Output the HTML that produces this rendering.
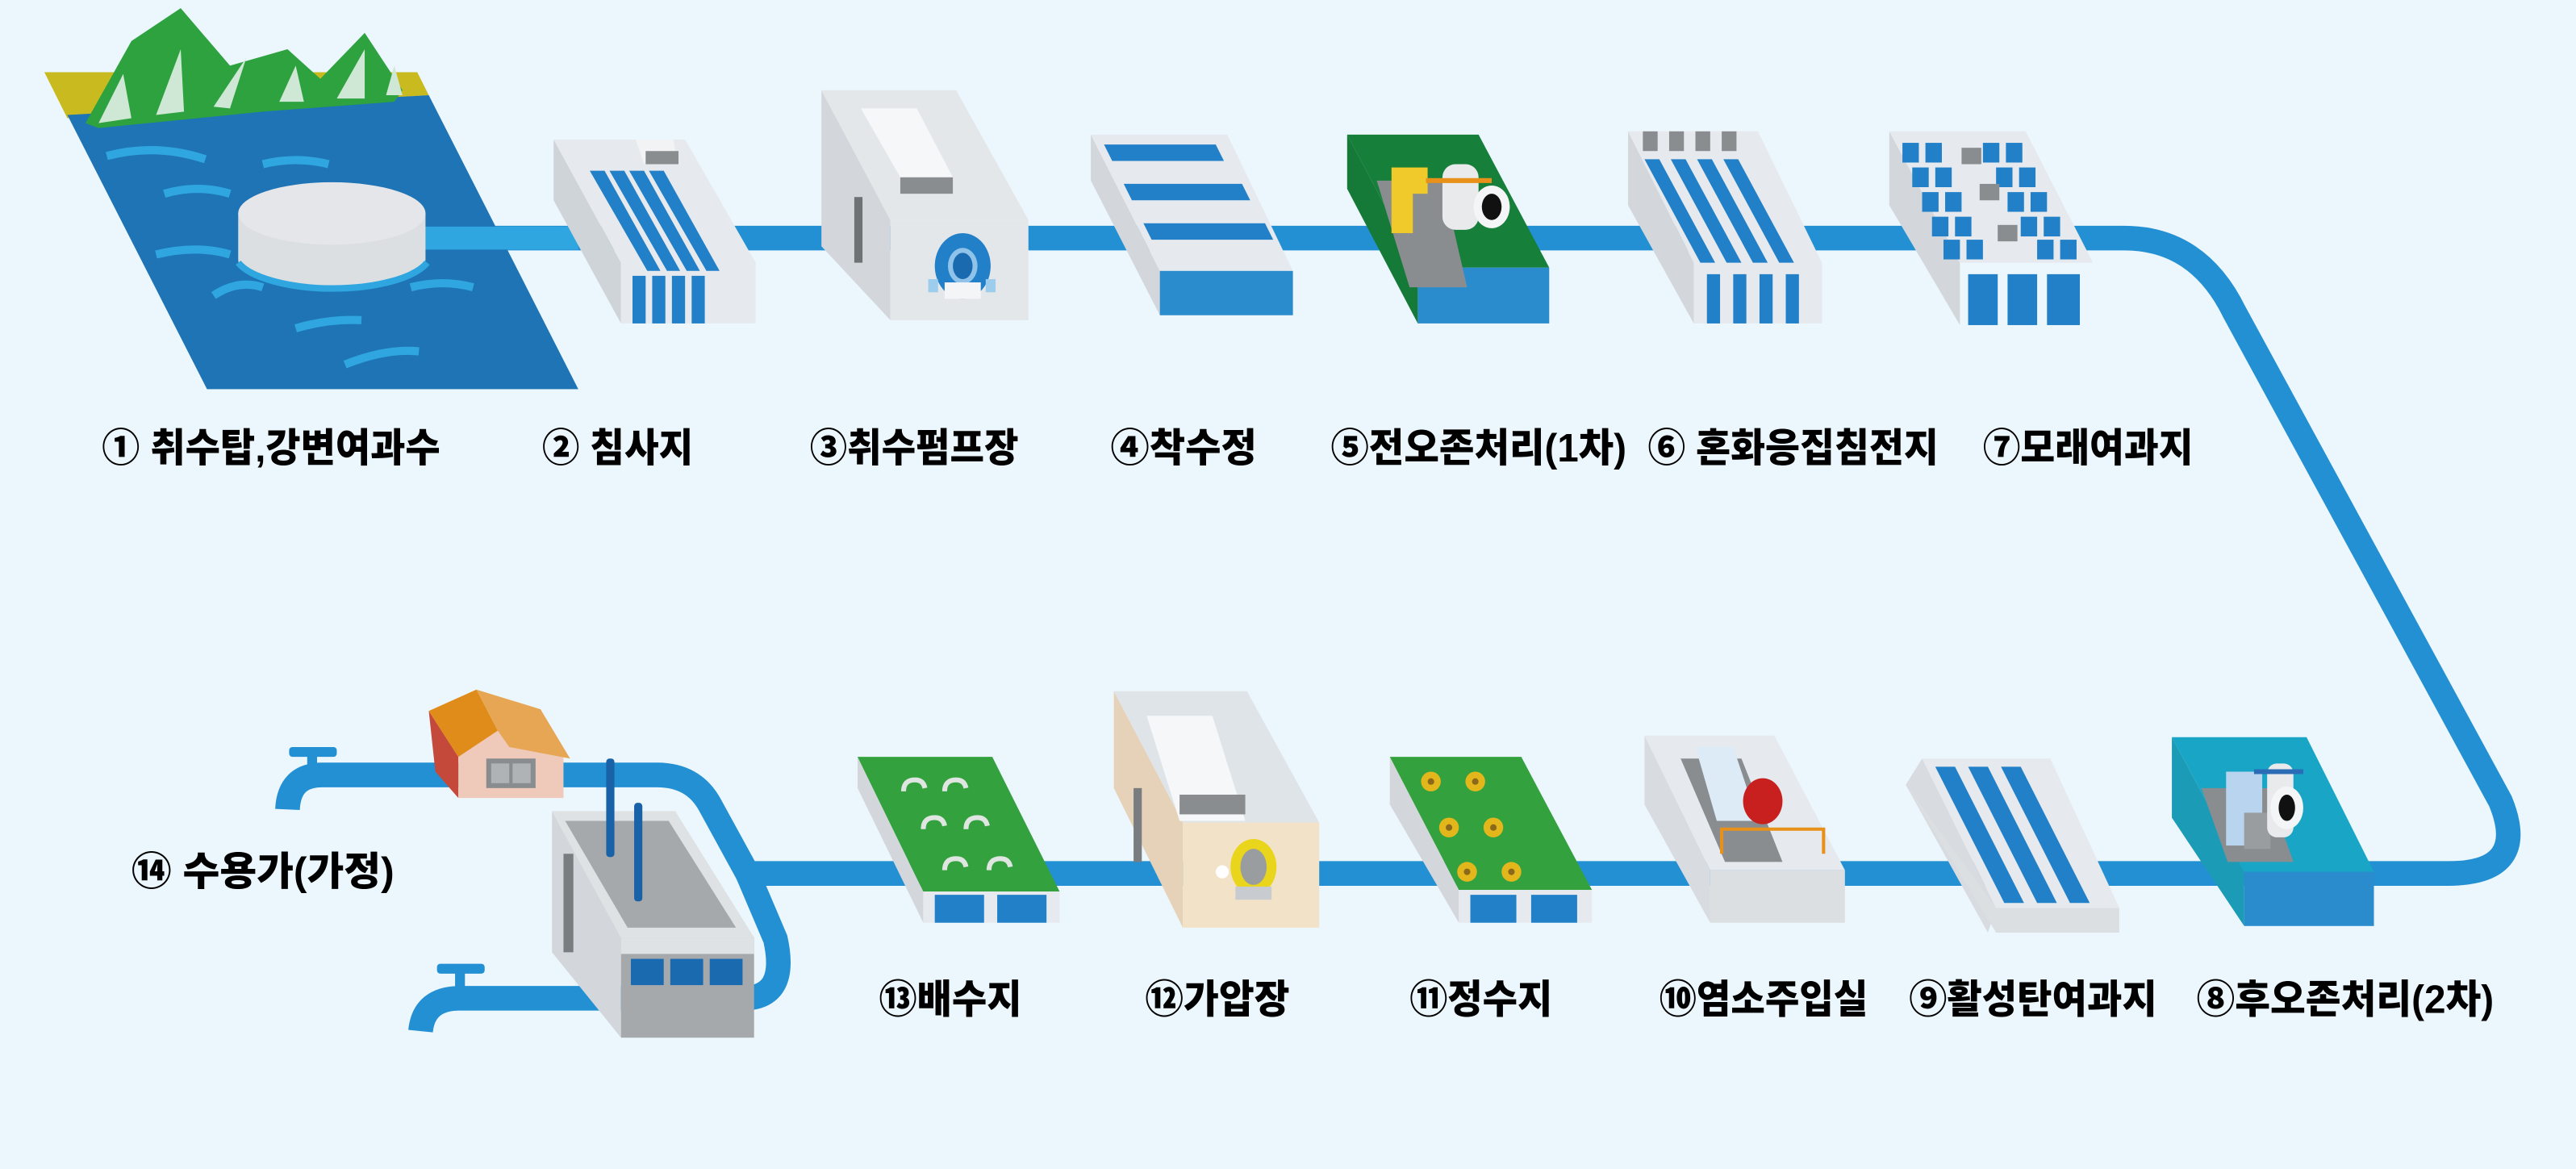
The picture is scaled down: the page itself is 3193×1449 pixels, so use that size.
<!DOCTYPE html>
<html><head><meta charset="utf-8"><style>
html,body{margin:0;padding:0;background:#ecf6fd;}
svg{display:block}
text{font-family:"Liberation Sans","Noto Sans CJK KR",sans-serif;font-weight:900;fill:#000;}
</style></head><body>
<svg width="3193" height="1449" viewBox="0 0 1568 712" preserveAspectRatio="none" xmlns="http://www.w3.org/2000/svg">
<rect width="1568" height="712" fill="#ecf6fd"/>
<!-- main pipe -->
<path d="M300 145 H1293 Q1338 145 1360 190 L1522 488 Q1540 532 1490 532 H455 L432 490 Q422 472 400 472 H196 Q176 472 175 493" fill="none" stroke="#2390d3" stroke-width="15"/>
<path d="M455 532 L472 572 Q480 608 452 608 H280 Q258 608 256 628" fill="none" stroke="#2390d3" stroke-width="15"/>
<!-- faucet handles -->
<rect x="176" y="455" width="29" height="6" rx="2" fill="#2390d3"/><rect x="187" y="458" width="6" height="12" fill="#2390d3"/>
<rect x="266" y="587" width="29" height="6" rx="2" fill="#2390d3"/><rect x="277" y="590" width="6" height="12" fill="#2390d3"/>

<!-- 1 lake -->
<polygon points="27,44 254,44 261,58 41,72" fill="#c9bb1f"/>
<polygon points="41,70 261,58 352,237 126,237" fill="#1e74b5"/>
<polygon points="52,75 80,25 110,5 140,40 175,30 195,48 222,20 245,55 240,62 160,68 60,78" fill="#2ea23f"/>
<polygon points="60,75 75,45 80,72" fill="#cfe8d5"/><polygon points="95,70 110,30 112,68" fill="#cfe8d5"/><polygon points="130,65 150,35 140,66" fill="#cfe8d5"/><polygon points="170,62 180,40 185,62" fill="#cfe8d5"/><polygon points="205,60 222,30 222,60" fill="#cfe8d5"/><polygon points="235,58 240,40 245,58" fill="#cfe8d5"/>
<path d="M65 95 q30 -8 60 2 M160 100 q20 -5 40 0 M100 118 q20 -6 40 0 M95 155 q25 -6 45 0 M180 200 q20 -6 40 -5 M250 175 q20 -5 38 0 M130 180 q15 -10 30 -5 M210 222 q25 -10 45 -8" stroke="#2fa6df" stroke-width="5" fill="none"/>
<polygon points="255,138 352,138 352,152 255,152" fill="#2fa6df"/>
<path d="M145 130 V158 A57 19 0 0 0 259 158 V130 Z" fill="#dcdfe2"/>
<ellipse cx="202" cy="130" rx="57" ry="19" fill="#e4e6e9"/>
<path d="M145 160 A60 22 0 0 0 260 160" stroke="#2fa6df" stroke-width="4" fill="none"/>

<!-- 2 침사지 -->
<polygon points="337,85 337,122 378,197 378,160" fill="#cfd4d9"/>
<polygon points="337,85 417,85 460,160 378,160" fill="#e6eaee"/>
<rect x="378" y="160" width="82" height="37" fill="#e6eaee"/>
<polygon points="387,85 410,85 412,100 392,100" fill="#f2f3f4"/><rect x="393" y="92" width="20" height="8" fill="#8a8d90"/>
<polygon points="359,104 368,104 402,165 394,165" fill="#2180c8"/><polygon points="371,104 380,104 414,165 406,165" fill="#2180c8"/><polygon points="383,104 392,104 426,165 418,165" fill="#2180c8"/><polygon points="395,104 404,104 438,165 430,165" fill="#2180c8"/>
<rect x="385" y="168" width="8" height="29" fill="#2180c8"/><rect x="397" y="168" width="8" height="29" fill="#2180c8"/><rect x="409" y="168" width="8" height="29" fill="#2180c8"/><rect x="421" y="168" width="8" height="29" fill="#2180c8"/>

<!-- 3 pump -->
<polygon points="500,55 500,150 542,195 542,134" fill="#d3d7db"/>
<polygon points="500,55 582,55 626,134 542,134" fill="#e4e7ea"/>
<rect x="542" y="134" width="84" height="61" fill="#e4e7ea"/>
<rect x="520" y="120" width="5" height="40" fill="#6f7275"/>
<polygon points="524,66 558,66 580,108 548,108" fill="#f6f7f8"/><rect x="548" y="108" width="32" height="10" fill="#8a8d90"/>
<ellipse cx="586" cy="162" rx="17" ry="20" fill="#2180c8"/><ellipse cx="586" cy="162" rx="9" ry="11" fill="#8fc3ea"/><ellipse cx="586" cy="162" rx="6" ry="8" fill="#1a6ab0"/>
<rect x="575" y="172" width="22" height="10" fill="#f4f5f6"/><rect x="565" y="170" width="6" height="8" fill="#9dcdec"/><rect x="600" y="170" width="6" height="8" fill="#9dcdec"/>

<!-- 4 착수정 -->
<polygon points="664,82 664,110 706,192 706,165" fill="#d3d7db"/>
<polygon points="664,82 747,82 787,165 706,165" fill="#e6eaee"/>
<polygon points="672,88 740,88 745,98 677,98" fill="#2180c8"/><polygon points="684,112 756,112 761,122 689,122" fill="#2180c8"/><polygon points="696,136 770,136 775,146 701,146" fill="#2180c8"/>
<rect x="706" y="165" width="81" height="27" fill="#2a8ccc"/>

<!-- 5 green ozone -->
<polygon points="820,82 820,115 863,197 863,163" fill="#157a37"/>
<polygon points="820,82 900,82 943,163 863,163" fill="#167f3a"/>
<rect x="863" y="163" width="80" height="34" fill="#2a8ccc"/>
<polygon points="838,110 878,110 893,175 858,175" fill="#8a8d90"/>
<rect x="847" y="102" width="22" height="40" fill="#f0c92a"/>
<rect x="860" y="118" width="24" height="24" fill="#8a8d90"/>
<rect x="878" y="100" width="22" height="40" rx="8" fill="#e8eaec"/>
<ellipse cx="908" cy="126" rx="11" ry="13" fill="#f4f5f6"/><ellipse cx="908" cy="126" rx="6" ry="8" fill="#111"/>
<path d="M868 110 h40" stroke="#e8911a" stroke-width="3"/>

<!-- 6 -->
<polygon points="991,80 991,125 1031,197 1031,160" fill="#d3d7db"/>
<polygon points="991,80 1070,80 1109,160 1031,160" fill="#e6eaee"/>
<rect x="1031" y="160" width="78" height="37" fill="#e6eaee"/>
<rect x="1000" y="80" width="9" height="12" fill="#8a8d90"/><rect x="1016" y="80" width="9" height="12" fill="#8a8d90"/><rect x="1032" y="80" width="9" height="12" fill="#8a8d90"/><rect x="1048" y="80" width="9" height="12" fill="#8a8d90"/>
<polygon points="1001,97 1010,97 1044,160 1035,160" fill="#2180c8"/><polygon points="1017,97 1026,97 1060,160 1051,160" fill="#2180c8"/><polygon points="1033,97 1042,97 1076,160 1067,160" fill="#2180c8"/><polygon points="1049,97 1058,97 1092,160 1083,160" fill="#2180c8"/>
<rect x="1039" y="167" width="8" height="30" fill="#2180c8"/><rect x="1055" y="167" width="8" height="30" fill="#2180c8"/><rect x="1071" y="167" width="8" height="30" fill="#2180c8"/><rect x="1087" y="167" width="8" height="30" fill="#2180c8"/>

<!-- 7 -->
<polygon points="1150,80 1150,125 1193,198 1193,160" fill="#d3d7db"/>
<polygon points="1150,80 1233,80 1274,160 1193,160" fill="#e6eaee"/>
<g fill="#2180c8">
<rect x="1158" y="87" width="10" height="12"/><rect x="1172" y="87" width="10" height="12"/><rect x="1207" y="87" width="10" height="12"/><rect x="1221" y="87" width="10" height="12"/>
<rect x="1164" y="102" width="10" height="12"/><rect x="1178" y="102" width="10" height="12"/><rect x="1215" y="102" width="10" height="12"/><rect x="1229" y="102" width="10" height="12"/>
<rect x="1170" y="117" width="10" height="12"/><rect x="1184" y="117" width="10" height="12"/><rect x="1222" y="117" width="10" height="12"/><rect x="1236" y="117" width="10" height="12"/>
<rect x="1176" y="132" width="10" height="12"/><rect x="1190" y="132" width="10" height="12"/><rect x="1230" y="132" width="10" height="12"/><rect x="1244" y="132" width="10" height="12"/>
<rect x="1183" y="146" width="10" height="12"/><rect x="1197" y="146" width="10" height="12"/><rect x="1240" y="146" width="10" height="12"/><rect x="1254" y="146" width="10" height="12"/>
<rect x="1198" y="167" width="18" height="31"/><rect x="1222" y="167" width="18" height="31"/><rect x="1246" y="167" width="20" height="31"/>
</g>
<rect x="1194" y="90" width="12" height="10" fill="#8a8d90"/><rect x="1205" y="112" width="12" height="10" fill="#8a8d90"/><rect x="1216" y="137" width="12" height="10" fill="#8a8d90"/>

<!-- 8 post ozone -->
<polygon points="1322,449 1322,498 1366,564 1366,531" fill="#1c9bb7"/>
<polygon points="1322,449 1404,449 1445,531 1366,531" fill="#19a6c6"/>
<rect x="1366" y="531" width="79" height="33" fill="#2a8ccc"/>
<polygon points="1340,480 1380,480 1396,525 1356,525" fill="#8a8d90"/>
<rect x="1355" y="470" width="22" height="45" fill="#b8d4ee"/>
<rect x="1366" y="495" width="16" height="22" fill="#9a9da0"/>
<rect x="1380" y="465" width="16" height="45" rx="6" fill="#e8eaec"/>
<ellipse cx="1392" cy="492" rx="10" ry="13" fill="#f4f5f6"/><ellipse cx="1392" cy="492" rx="5" ry="8" fill="#111"/>
<path d="M1372 470 h30" stroke="#2a6cb5" stroke-width="3"/>

<!-- 9 activated carbon -->
<polygon points="1160,478 1170,462 1215,553 1210,568" fill="#d8dce0"/>
<polygon points="1160,478 1215,568 1290,568 1290,553 1215,553" fill="#dcdfe2"/>
<polygon points="1170,462 1248,462 1290,553 1215,553" fill="#e6eaee"/>
<polygon points="1178,467 1190,467 1232,550 1220,550" fill="#2180c8"/><polygon points="1198,467 1210,467 1252,550 1240,550" fill="#2180c8"/><polygon points="1218,467 1230,467 1272,550 1260,550" fill="#2180c8"/>

<!-- 10 chlorine -->
<polygon points="1001,448 1001,490 1041,562 1041,530" fill="#d8dce0"/>
<polygon points="1001,448 1080,448 1123,530 1041,530" fill="#e6eaee"/>
<rect x="1041" y="530" width="82" height="32" fill="#dcdfe2"/>
<polygon points="1023,462 1060,462 1085,525 1050,525" fill="#8a8d90"/>
<polygon points="1032,455 1055,455 1070,500 1045,500" fill="#dcebf6"/>
<ellipse cx="1073" cy="488" rx="12" ry="14" fill="#c81f1f"/>
<path d="M1048 520 V505 H1110 V520" stroke="#e8911a" stroke-width="2" fill="none"/>

<!-- 11 clear well -->
<polygon points="846,461 846,490 888,562 888,542" fill="#d3d7db"/>
<polygon points="846,461 926,461 969,542 888,542" fill="#33a13d"/>
<rect x="888" y="542" width="81" height="20" fill="#e6eaee"/>
<rect x="895" y="545" width="28" height="17" fill="#2180c8"/><rect x="932" y="545" width="28" height="17" fill="#2180c8"/>
<g fill="#e3b71c"><circle cx="871" cy="476" r="6"/><circle cx="898" cy="476" r="6"/><circle cx="882" cy="504" r="6"/><circle cx="909" cy="504" r="6"/><circle cx="893" cy="531" r="6"/><circle cx="920" cy="531" r="6"/></g>
<g fill="#8a6a1a"><circle cx="871" cy="476" r="2"/><circle cx="898" cy="476" r="2"/><circle cx="882" cy="504" r="2"/><circle cx="909" cy="504" r="2"/><circle cx="893" cy="531" r="2"/><circle cx="920" cy="531" r="2"/></g>

<!-- 12 booster -->
<polygon points="678,421 678,480 720,565 720,501" fill="#e6d2b8"/>
<polygon points="678,421 759,421 803,501 720,501" fill="#dfe4e8"/>
<rect x="720" y="501" width="83" height="64" fill="#f2e2c8"/>
<polygon points="698,436 738,436 758,500 718,500" fill="#f6f7f8"/><rect x="718" y="484" width="40" height="12" fill="#8a8d90"/>
<rect x="690" y="480" width="5" height="45" fill="#7a7d80"/>
<ellipse cx="763" cy="528" rx="14" ry="17" fill="#e9d51c"/><ellipse cx="763" cy="528" rx="8" ry="11" fill="#9a9da0"/>
<rect x="752" y="540" width="22" height="8" fill="#c8ccd0"/><circle cx="744" cy="531" r="4" fill="#fff"/>

<!-- 13 distribution -->
<polygon points="522,461 522,480 562,562 562,543" fill="#d3d7db"/>
<polygon points="522,461 604,461 645,543 562,543" fill="#33a13d"/>
<rect x="562" y="543" width="83" height="19" fill="#e6eaee"/>
<rect x="569" y="545" width="30" height="17" fill="#2180c8"/><rect x="607" y="545" width="30" height="17" fill="#2180c8"/>
<g stroke="#dfe5e0" stroke-width="3" fill="none"><path d="M550 482 q0 -7 7 -7 q5 0 6 5"/><path d="M575 482 q0 -7 7 -7 q5 0 6 5"/><path d="M562 505 q0 -7 7 -7 q5 0 6 5"/><path d="M588 505 q0 -7 7 -7 q5 0 6 5"/><path d="M575 530 q0 -7 7 -7 q5 0 6 5"/><path d="M602 530 q0 -7 7 -7 q5 0 6 5"/></g>

<!-- house -->
<polygon points="261,433 279,461 279,486 265,470" fill="#c4493a"/>
<polygon points="279,447 320,442 343,460 343,486 279,486" fill="#efc9ba"/>
<rect x="296" y="462" width="30" height="18" fill="#8a8d90"/><rect x="299" y="465" width="11" height="12" fill="#b0b3b6"/><rect x="312" y="465" width="11" height="12" fill="#b0b3b6"/>
<polygon points="261,433 290,420 303,445 279,461" fill="#e08c1a"/>
<polygon points="290,420 329,432 347,462 310,455 303,445" fill="#e6a653"/>

<!-- factory -->
<polygon points="336,494 336,580 378,632 378,571" fill="#d3d7db"/>
<rect x="343" y="520" width="6" height="60" fill="#7a7d80"/>
<polygon points="336,494 411,494 459,571 378,571" fill="#dfe2e5"/>
<polygon points="344,500 407,500 448,565 382,565" fill="#a6a9ac"/>
<rect x="378" y="571" width="81" height="61" fill="#a6a9ac"/>
<rect x="378" y="571" width="81" height="10" fill="#dfe2e5"/>
<rect x="384" y="584" width="20" height="16" fill="#1a6ab0"/><rect x="408" y="584" width="20" height="16" fill="#1a6ab0"/><rect x="432" y="584" width="20" height="16" fill="#1a6ab0"/>
<rect x="369" y="462" width="5" height="60" rx="2" fill="#1a62a8"/><rect x="386" y="489" width="5" height="60" rx="2" fill="#1a62a8"/>

<!-- labels -->
<g font-size="24">
<text x="62" y="281" textLength="206" lengthAdjust="spacingAndGlyphs">① 취수탑,강변여과수</text>
<text x="330" y="281" textLength="92" lengthAdjust="spacingAndGlyphs">② 침사지</text>
<text x="493" y="281" textLength="127" lengthAdjust="spacingAndGlyphs">③취수펌프장</text>
<text x="676" y="281" textLength="89" lengthAdjust="spacingAndGlyphs">④착수정</text>
<text x="810" y="281" textLength="180" lengthAdjust="spacingAndGlyphs">⑤전오존처리(1차)</text>
<text x="1003" y="281" textLength="177" lengthAdjust="spacingAndGlyphs">⑥ 혼화응집침전지</text>
<text x="1207" y="281" textLength="128" lengthAdjust="spacingAndGlyphs">⑦모래여과지</text>
<text x="80" y="539" textLength="160" lengthAdjust="spacingAndGlyphs">⑭ 수용가(가정)</text>
<text x="535" y="617" textLength="87" lengthAdjust="spacingAndGlyphs">⑬배수지</text>
<text x="697" y="617" textLength="88" lengthAdjust="spacingAndGlyphs">⑫가압장</text>
<text x="858" y="617" textLength="87" lengthAdjust="spacingAndGlyphs">⑪정수지</text>
<text x="1010" y="617" textLength="127" lengthAdjust="spacingAndGlyphs">⑩염소주입실</text>
<text x="1162" y="617" textLength="151" lengthAdjust="spacingAndGlyphs">⑨활성탄여과지</text>
<text x="1337" y="617" textLength="181" lengthAdjust="spacingAndGlyphs">⑧후오존처리(2차)</text>
</g>
</svg>
</body></html>
